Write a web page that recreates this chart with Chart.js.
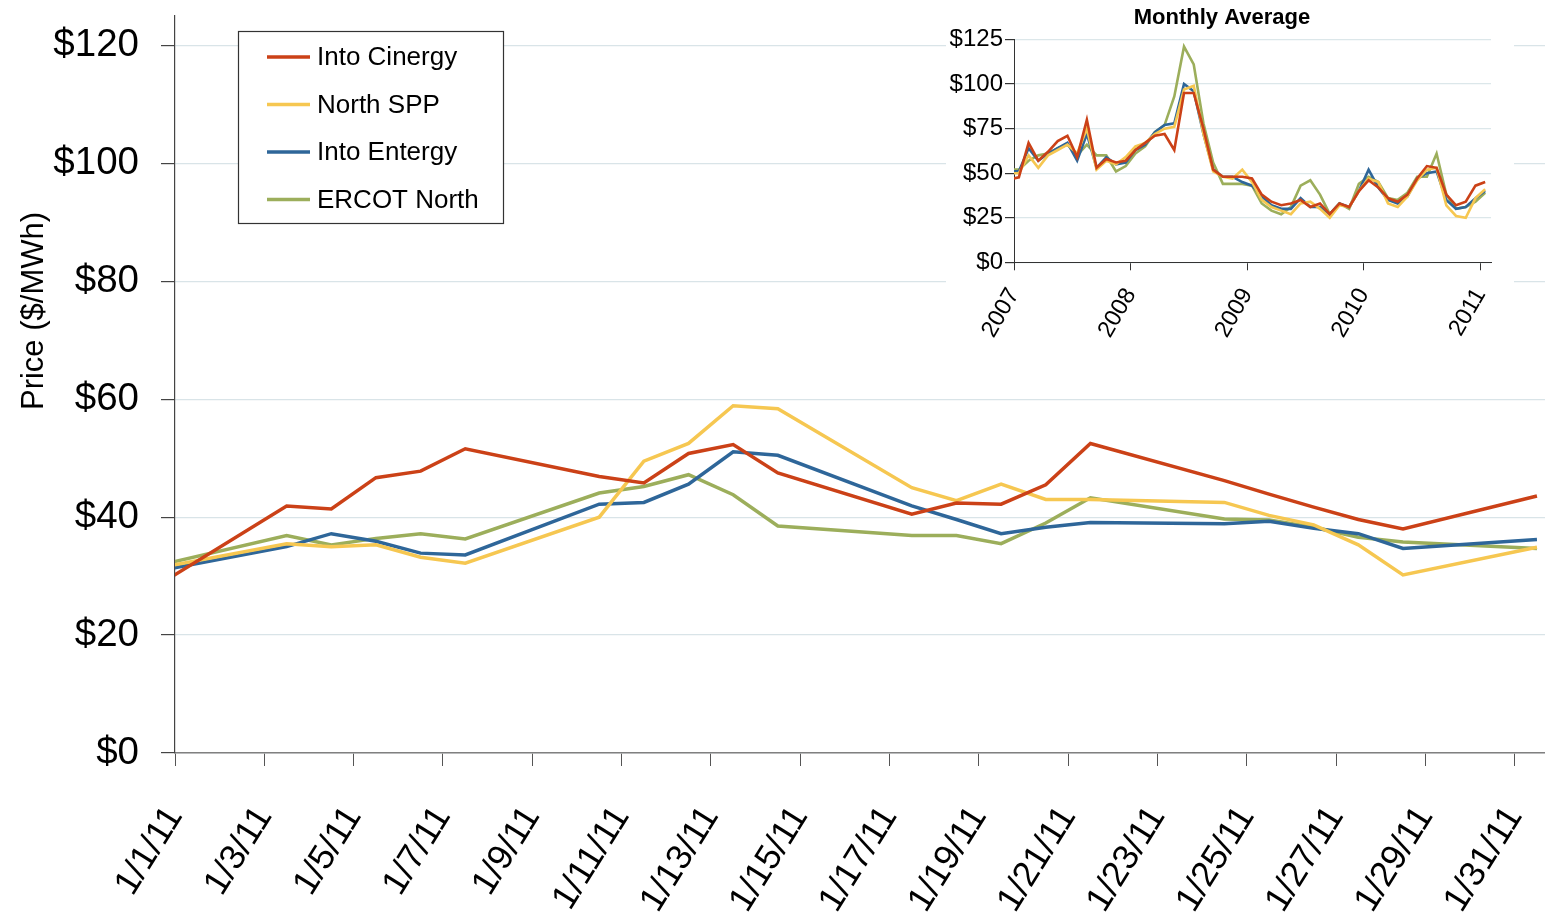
<!DOCTYPE html>
<html><head><meta charset="utf-8">
<script src="https://cdn.jsdelivr.net/npm/chart.js@4.4.1/dist/chart.umd.min.js"></script>
<style>
html,body{margin:0;padding:0;background:#fff;}
#wrap{position:relative;width:1545px;height:917px;overflow:hidden;}
#main{position:absolute;left:0;top:0;}
#inset{position:absolute;left:946px;top:0;background:#fff;}
</style></head><body>
<div id="wrap">
<canvas id="main" width="1545" height="917"></canvas>
<canvas id="inset" width="568" height="345"></canvas>
</div>
<script>
// ---------- data ----------
const seriesNames = ['Into Cinergy', 'North SPP', 'Into Entergy', 'ERCOT North'];
const seriesColors = ['#CB4117', '#F6C751', '#2E6699', '#9CAE5B'];

// daily (first point 12/31/10 lies just left of the axis and is clipped)
const mainDates = ['12/31/10','1/3/11','1/4/11','1/5/11','1/6/11','1/7/11','1/10/11','1/11/11','1/12/11','1/13/11','1/14/11',
  '1/17/11','1/18/11','1/19/11','1/20/11','1/21/11','1/24/11','1/25/11','1/26/11','1/27/11','1/28/11','1/31/11'];
const intoCinergy = [27.9, 41.9, 41.4, 46.7, 47.8, 51.6, 46.9, 45.8, 50.8, 52.3, 47.5, 40.5, 42.4, 42.2, 45.5, 52.5, 46.2, 43.9, 41.7, 39.6, 38.0, 43.6];
const northSPP    = [31.2, 35.5, 35.0, 35.3, 33.2, 32.2, 40.0, 49.5, 52.5, 58.9, 58.4, 45.0, 42.8, 45.6, 43.0, 43.0, 42.5, 40.3, 38.7, 35.3, 30.2, 34.9];
const intoEntergy = [30.7, 35.0, 37.2, 35.9, 33.9, 33.6, 42.2, 42.5, 45.6, 51.1, 50.5, 41.9, 39.6, 37.2, 38.3, 39.1, 38.9, 39.3, 38.1, 37.2, 34.7, 36.2];
const ercotNorth  = [31.6, 36.9, 35.3, 36.4, 37.2, 36.3, 44.1, 45.2, 47.2, 43.8, 38.5, 36.9, 36.9, 35.5, 39.0, 43.3, 39.7, 39.5, 38.3, 36.6, 35.8, 34.7];

const mainTickLabels = ['1/1/11','1/3/11','1/5/11','1/7/11','1/9/11','1/11/11','1/13/11','1/15/11','1/17/11',
  '1/19/11','1/21/11','1/23/11','1/25/11','1/27/11','1/29/11','1/31/11'];
const mainYTicks = [0, 20, 40, 60, 80, 100, 120];
const mainYTitle = 'Price ($/MWh)';

// monthly averages, Dec 2006 (clipped) .. Jan 2011
const insetFirstMonth = [2006, 12];
const mCinergy = [46.5, 47.7, 67, 57, 62, 68, 71, 59, 80, 53, 58, 56, 57, 63, 67, 71, 72, 63, 95, 95, 75, 52, 48, 48, 48, 47, 38, 34, 32, 33, 35, 31, 33, 27, 33, 31, 40, 46, 42, 36, 34, 38, 47, 54, 53, 38, 32, 34, 43, 45];
const mSPP      = [50, 50, 60, 53, 60, 63, 66, 61, 75, 52, 57, 55, 59, 65, 67, 72, 75, 76, 97, 99, 72, 51, 48, 47, 52, 45, 35, 31, 29, 27, 33, 34, 30, 25, 32, 31, 40, 47, 45, 33, 31, 37, 46, 52, 53, 32, 26, 25, 36, 41];
const mEntergy  = [51, 51, 64, 57, 61, 64, 67, 57, 72, 53, 59, 55, 56, 63, 66, 73, 77, 78, 100, 96, 72, 52, 48, 48, 45, 43, 37, 32, 30, 30, 36, 31, 31, 27, 33, 31, 40, 52, 42, 35, 33, 37, 47, 50, 51, 35, 30, 31, 36, 40];
const mERCOT    = [52, 52, 57, 60, 61, 64, 66, 60, 66, 60, 60, 51, 54, 61, 65, 73, 77, 93, 121, 111, 78, 56, 44, 44, 44, 43, 33, 29, 27, 31, 43, 46, 38, 27, 33, 30, 44, 48, 45, 36, 35, 39, 48, 48, 61, 38, 30, 31, 34, 39];
const insetTickLabels = ['2007', '2008', '2009', '2010', '2011'];
const insetYTicks = [0, 25, 50, 75, 100, 125];
const insetTitle = 'Monthly Average';

// ---------- helpers ----------
const FONT = "'Liberation Sans', Arial, sans-serif";
const dayIndex = s => { const [m, d, y] = s.split('/').map(Number); return (Date.UTC(2000 + y, m - 1, d) - Date.UTC(2011, 0, 1)) / 864e5; };
const mainX = mainDates.map(s => dayIndex(s) + 0.5);          // middle of each day
const mainTickVals = mainTickLabels.map(dayIndex);              // start of day
const mainSeries = [intoCinergy, northSPP, intoEntergy, ercotNorth];

const insetSeries = [mCinergy, mSPP, mEntergy, mERCOT];
const insetX = mCinergy.map((_, i) => (insetFirstMonth[0] - 2007) * 12 + (insetFirstMonth[1] - 1) + i + 0.5); // mid-month
const insetTickVals = insetTickLabels.map(y => (Number(y) - 2007) * 12);

const mkSets = (series, xs, w) => series.map((arr, i) => ({
  label: seriesNames[i], data: arr.map((v, j) => ({ x: xs[j], y: v })),
  borderColor: seriesColors[i], backgroundColor: seriesColors[i], borderWidth: w,
  pointRadius: 0, tension: 0, fill: false, borderJoinStyle: 'miter'
}));
const noPad = s => { s.paddingTop = 0; s.paddingBottom = 0; s.paddingLeft = 0; s.paddingRight = 0; };

// ---------- plugins ----------
const legendBox = {
  id: 'legendBox',
  afterDraw(c) {
    const ctx = c.ctx; ctx.save();
    const x0 = 238.5, y0 = 31.5, w = 265, h = 192;
    ctx.fillStyle = '#fff'; ctx.fillRect(x0, y0, w, h);
    ctx.strokeStyle = '#333'; ctx.lineWidth = 1.2; ctx.strokeRect(x0, y0, w, h);
    ctx.font = `26px ${FONT}`; ctx.textBaseline = 'middle'; ctx.textAlign = 'left';
    c.data.datasets.forEach((ds, i) => {
      const y = 57 + i * 47.5;
      ctx.strokeStyle = ds.borderColor; ctx.lineWidth = 3.5;
      ctx.beginPath(); ctx.moveTo(267, y); ctx.lineTo(310, y); ctx.stroke();
      ctx.fillStyle = '#000'; ctx.fillText(ds.label, 317, y + 1);
    });
    ctx.restore();
  }
};
const yTitlePlugin = {
  id: 'yTitle',
  afterDraw(c) {
    const ctx = c.ctx; ctx.save();
    ctx.translate(34, 311); ctx.rotate(-Math.PI / 2);
    ctx.font = `31px ${FONT}`; ctx.fillStyle = '#000'; ctx.textAlign = 'center'; ctx.textBaseline = 'middle';
    ctx.fillText(mainYTitle, 0, 0); ctx.restore();
  }
};
const insetTitlePlugin = {
  id: 'insetTitle',
  afterDraw(c) {
    const ctx = c.ctx; ctx.save();
    ctx.font = `bold 22px ${FONT}`; ctx.fillStyle = '#000'; ctx.textAlign = 'center'; ctx.textBaseline = 'middle';
    ctx.fillText(insetTitle, 276, 18); ctx.restore();
  }
};

// ---------- main chart ----------
new Chart(document.getElementById('main'), {
  type: 'line',
  data: { datasets: mkSets(mainSeries, mainX, 3.5) },
  options: {
    responsive: false, animation: false, events: [],
    layout: { padding: { top: 16, right: 0, left: 0, bottom: 0 } },
    plugins: { legend: { display: false }, tooltip: { enabled: false } },
    scales: {
      x: {
        type: 'linear', min: 0, max: 30.68,
        afterBuildTicks: s => { s.ticks = mainTickVals.map(v => ({ value: v })); },
        afterFit: s => { s.height = 164; noPad(s); },
        grid: { drawOnChartArea: false, drawTicks: true, tickLength: 13, tickColor: '#555', tickWidth: 1 },
        border: { color: '#808080', width: 1.5 },
        ticks: { autoSkip: false, minRotation: 58, maxRotation: 58, padding: 33, color: '#000',
          font: { family: FONT, size: 35.5 }, callback: (v, i) => mainTickLabels[i] }
      },
      y: {
        min: 0, max: 125,
        afterBuildTicks: s => { s.ticks = mainYTicks.map(v => ({ value: v })); },
        afterFit: s => { s.width = 175; noPad(s); },
        grid: { color: '#d9e4e8', lineWidth: 1.2, tickLength: 14, tickColor: '#444', tickWidth: 1.2 },
        border: { color: '#444', width: 1.2 },
        ticks: { padding: 22, color: '#000', font: { family: FONT, size: 38.5 }, callback: v => '$' + v }
      }
    }
  },
  plugins: [legendBox, yTitlePlugin]
});

// ---------- inset chart ----------
new Chart(document.getElementById('inset'), {
  type: 'line',
  data: { datasets: mkSets(insetSeries, insetX, 2.6) },
  options: {
    responsive: false, animation: false, events: [],
    layout: { padding: { top: 39.5, right: 23, left: 0, bottom: 0 } },
    plugins: { legend: { display: false }, tooltip: { enabled: false } },
    scales: {
      x: {
        type: 'linear', min: 0, max: 49.1,
        afterBuildTicks: s => { s.ticks = insetTickVals.map(v => ({ value: v })); },
        afterFit: s => { s.height = 82.7; noPad(s); },
        grid: { drawOnChartArea: false, drawTicks: true, tickLength: 8, tickColor: '#333' },
        border: { color: '#333', width: 1 },
        ticks: { autoSkip: false, minRotation: 60, maxRotation: 60, padding: 13, color: '#000',
          font: { family: FONT, size: 23.5 }, callback: (v, i) => insetTickLabels[i] }
      },
      y: {
        min: 0, max: 125,
        afterBuildTicks: s => { s.ticks = insetYTicks.map(v => ({ value: v })); },
        afterFit: s => { s.width = 68; noPad(s); },
        grid: { color: '#dce7ea', lineWidth: 1.2, tickLength: 9, tickColor: '#333' },
        border: { color: '#333', width: 1 },
        ticks: { padding: 2, color: '#000', font: { family: FONT, size: 24 }, callback: v => '$' + v }
      }
    }
  },
  plugins: [insetTitlePlugin]
});
</script>
</body></html>
